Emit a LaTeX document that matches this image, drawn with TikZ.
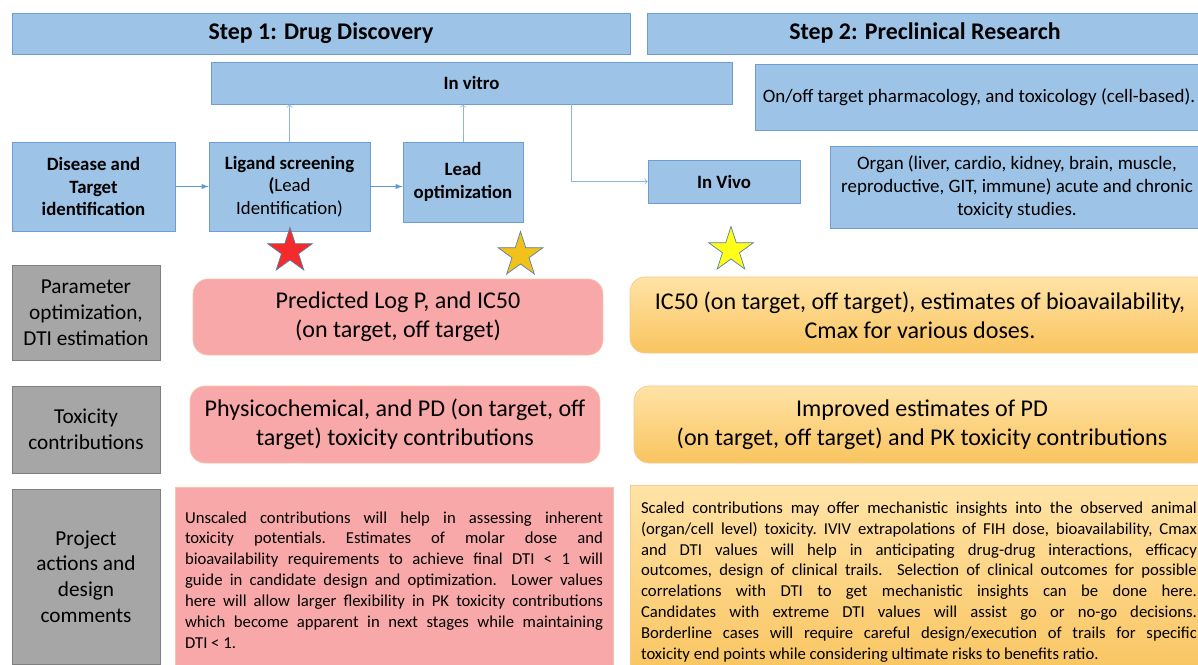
\documentclass[tikz,border=0pt]{standalone}
\usepackage{fontspec}
\setmainfont{Carlito}
\usetikzlibrary{shapes.geometric}

\definecolor{boxblue}{HTML}{9DC3E6}
\definecolor{lineblue}{HTML}{6F9DD2}
\definecolor{arrowblue}{HTML}{5B9BD5}
\definecolor{paleblue}{HTML}{8DB4E2}
\definecolor{boxgray}{HTML}{A6A6A6}
\definecolor{linegray}{HTML}{7F7F7F}
\definecolor{boxpink}{HTML}{F8A8A8}
\definecolor{linepink}{HTML}{F8C4A8}
\definecolor{orangetop}{HTML}{FFE3A6}
\definecolor{orangebot}{HTML}{F9C45F}
\definecolor{lineorange}{HTML}{F6C98E}
\definecolor{starline}{HTML}{5A7FA8}
\definecolor{starred}{HTML}{F52A2A}
\definecolor{stargold}{HTML}{F2C21A}
\definecolor{staryellow}{HTML}{FFFF1A}

\begin{document}
\begin{tikzpicture}[x=0.02cm,y=-0.02cm]
\tikzstyle{header} = [draw=lineblue,fill=boxblue,inner sep=0pt,text depth=0.1cm,font=\fontsize{13.6}{16}\selectfont\bfseries]
\tikzstyle{stage} = [draw=lineblue,fill=boxblue,inner sep=0pt,align=center,font=\fontsize{10.7}{12.8}\selectfont\bfseries]
\tikzstyle{note} = [draw=lineblue,fill=boxblue,inner sep=0pt,align=center,font=\fontsize{10.8}{13}\selectfont]
\tikzstyle{rowlabel} = [draw=linegray,fill=boxgray,inner sep=0pt,align=center,minimum width=2.96cm,font=\fontsize{12.1}{14.7}\selectfont]
\tikzstyle{early} = [draw=linepink,fill=boxpink,inner sep=0pt,align=center,font=\fontsize{13.7}{16.6}\selectfont]
\tikzstyle{late} = [draw=lineorange,shade,top color=orangetop,bottom color=orangebot,inner sep=0pt,align=center,font=\fontsize{13.7}{16.6}\selectfont]
\tikzstyle{remark} = [align=justify,font=\fontsize{9.5}{11.9}\selectfont\frenchspacing]
\tikzstyle{starmark} = [star,star points=5,star point ratio=2.618,minimum size=0.94cm,inner sep=0pt,draw=starline]
\tikzstyle{flow} = [-latex,color=arrowblue];
\tikzstyle{link} = [->,color=paleblue];

\useasboundingbox (0,0) rectangle (1198,664);
\clip (0,0) rectangle (1198,664);

% step headers
\node [header,minimum width=12.36cm,minimum height=0.82cm] (step1) at (321,33.5) {Step 1: Drug Discovery};
\node [header,minimum width=11.1cm,minimum height=0.82cm] (step2) at (925,33.5) {Step 2: Preclinical Research};

% flow
\node [stage,minimum width=10.42cm,minimum height=0.84cm] (invitro) at (471.5,83) {In vitro};
\node [note,minimum width=8.96cm,minimum height=1.32cm] (cell) at (979,97) {On/off target pharmacology, and toxicology (cell-based).};
\node [stage,minimum width=3.26cm,minimum height=1.78cm] (disease) at (93.5,186.5) {Disease and\\Target\\identification};
\node [stage,minimum width=3.22cm,minimum height=1.78cm] (ligand) at (289.5,186.5) {Ligand screening\\(\mdseries Lead\\\mdseries Identification)};
\node [stage,minimum width=2.4cm,minimum height=1.6cm] (lead) at (463,182) {Lead\\optimization};
\node [stage,minimum width=3.04cm,minimum height=0.86cm] (invivo) at (724,181.5) {In Vivo};
\node [note,minimum width=7.46cm,minimum height=1.64cm] (organ) at (1017,187) {Organ (liver, cardio, kidney, brain, muscle,\\reproductive, GIT, immune) acute and chronic\\toxicity studies.};

\draw [flow] (disease) edge (ligand);
\draw [flow] (ligand.east) -- (ligand.east -| lead.west);
\draw [link] (ligand.north) -- (ligand.north |- invitro.south);
\draw [link] (lead.north) -- (lead.north |- invitro.south);
\draw [link] ([xshift=1.99cm]invitro.south) |- (invivo.west);

% stars
\node [starmark,fill=starred] (s1) at (290,251) {};
\node [starmark,fill=stargold] (s2) at (520.5,255) {};
\node [starmark,fill=staryellow] (s3) at (731,250) {};

% rows
\node [rowlabel,minimum height=1.9cm] (r1) at (86,312.5) {Parameter\\optimization,\\DTI estimation};
\node [rowlabel,minimum height=1.74cm] (r2) at (86,429.5) {Toxicity\\contributions};
\node [rowlabel,minimum height=3.5cm] (r3) at (86,576.5) {Project\\actions and\\design\\comments};

\node [early,rounded corners=0.3cm,minimum width=8.2cm,minimum height=1.52cm] (p1) at (398,317) {Predicted Log P, and IC50\\(on target, off target)};
\node [early,rounded corners=0.3cm,minimum width=8.2cm,minimum height=1.54cm] (p2) at (395,424.5) {Physicochemical, and PD (on target, off\\target) toxicity contributions};
\node [early,remark,text width=8.36cm,minimum width=8.76cm,minimum height=3.72cm] (p3) at (394,580) {\tolerance=10000 Unscaled contributions will help in assessing inherent\linebreak
toxicity potentials. Estimates of molar dose and\linebreak
bioavailability requirements to achieve final DTI < 1 will\linebreak
guide in candidate design and optimization.\ \ Lower values\linebreak
here will allow larger flexibility in PK toxicity contributions\linebreak
which become apparent in next stages while maintaining\linebreak
DTI < 1.};

\node [late,rounded corners=0.3cm,minimum width=11.6cm,minimum height=1.52cm] (o1) at (920,315) {IC50 (on target, off target), estimates of bioavailability,\\Cmax for various doses.};
\node [late,rounded corners=0.3cm,minimum width=11.52cm,minimum height=1.54cm] (o2) at (922,424.5) {Improved estimates of PD\\(on target, off target) and PK toxicity contributions};
\node [late,remark,text width=11.12cm,minimum width=11.56cm,minimum height=3.88cm] (o3) at (919,582) {\tolerance=10000 Scaled contributions may offer mechanistic insights into the observed animal\linebreak
(organ/cell level) toxicity. IVIV extrapolations of FIH dose, bioavailability, Cmax\linebreak
and DTI values will help in anticipating drug-drug interactions, efficacy\linebreak
outcomes, design of clinical trails.\ \ Selection of clinical outcomes for possible\linebreak
correlations with DTI to get mechanistic insights can be done here.\linebreak
Candidates with extreme DTI values will assist go or no-go decisions.\linebreak
Borderline cases will require careful design/execution of trails for specific\linebreak
toxicity end points while considering ultimate risks to benefits ratio.};
\end{tikzpicture}
\end{document}
